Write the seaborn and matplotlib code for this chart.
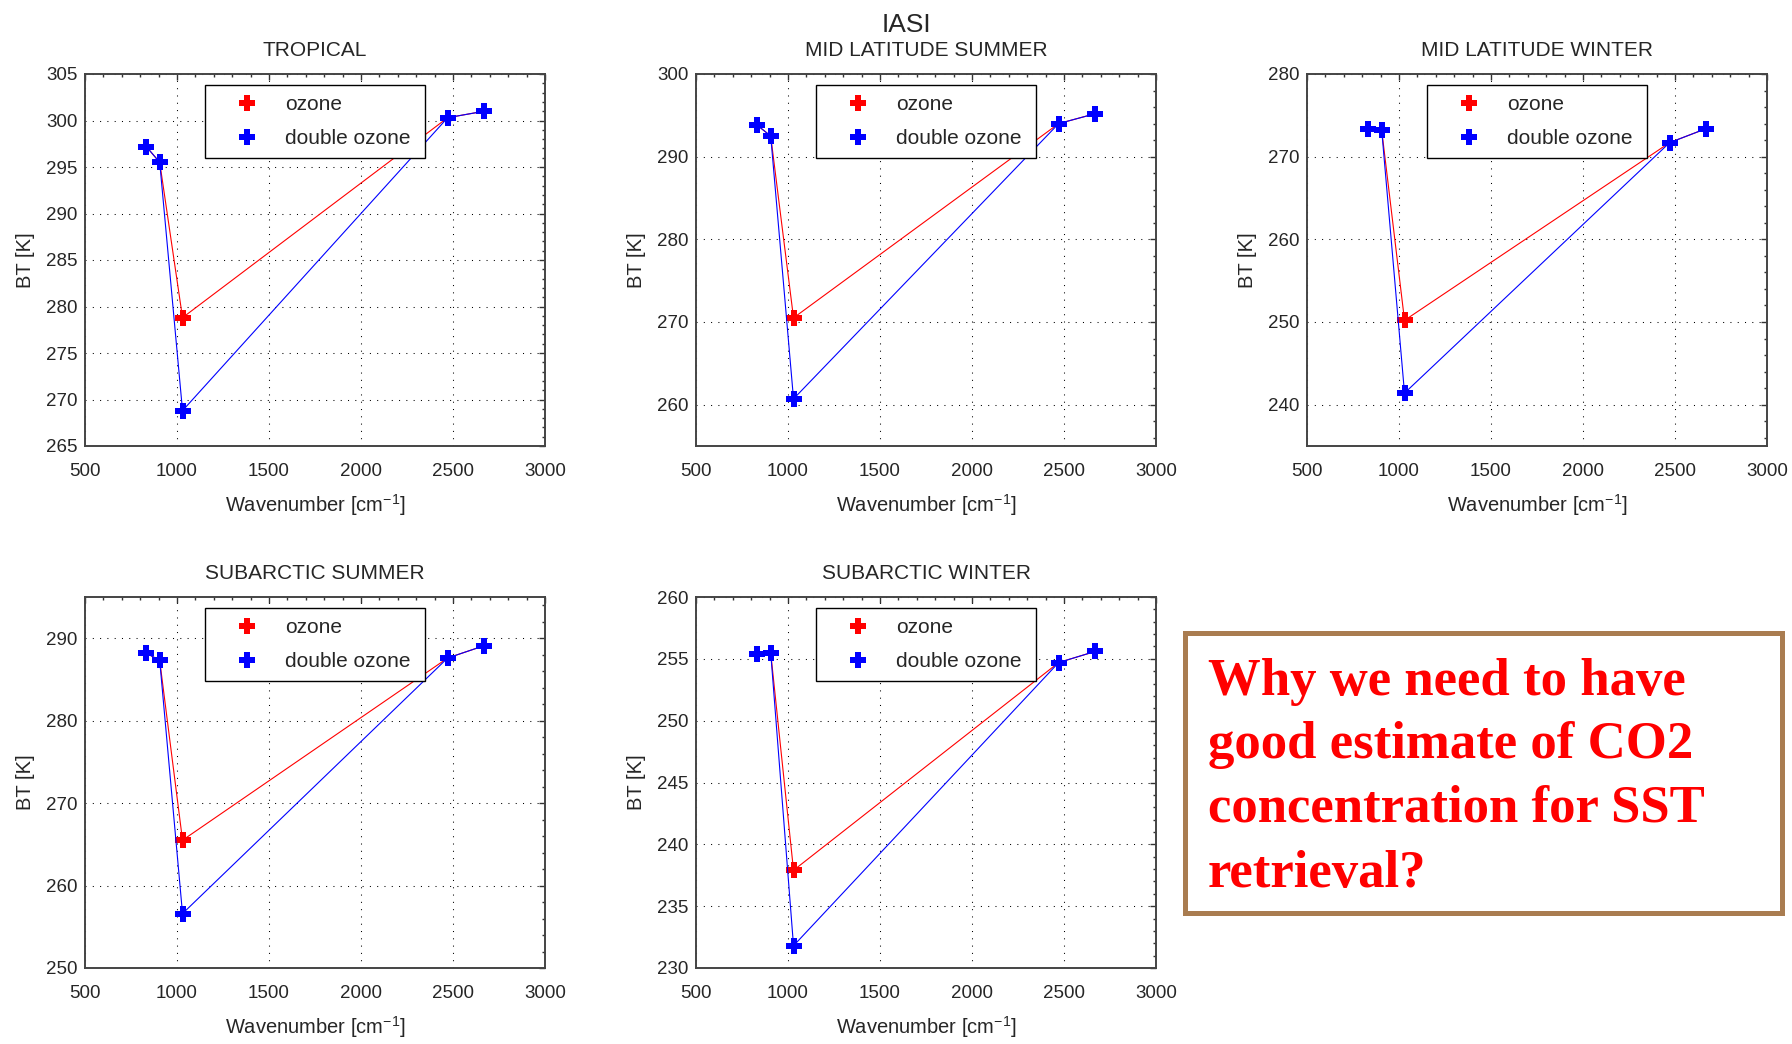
import numpy as np
import pandas as pd
import matplotlib
matplotlib.use("Agg")
import matplotlib.pyplot as plt
from matplotlib.lines import Line2D
from matplotlib.patches import Rectangle
from matplotlib.ticker import MultipleLocator
import seaborn as sns

# ---- data -------------------------------------------------------------
wavenumber = [833, 906, 1030, 2471, 2670]

profiles = ["TROPICAL", "MID LATITUDE SUMMER", "MID LATITUDE WINTER",
            "SUBARCTIC SUMMER", "SUBARCTIC WINTER"]

bt_ozone = {
    "TROPICAL":            [297.2, 295.5, 278.8, 300.3, 301.0],
    "MID LATITUDE SUMMER": [293.8, 292.5, 270.5, 294.0, 295.2],
    "MID LATITUDE WINTER": [273.3, 273.2, 250.2, 271.7, 273.4],
    "SUBARCTIC SUMMER":    [288.2, 287.3, 265.5, 287.6, 289.1],
    "SUBARCTIC WINTER":    [255.4, 255.5, 237.9, 254.7, 255.6],
}
bt_double_ozone = {
    "TROPICAL":            [297.2, 295.5, 268.8, 300.3, 301.0],
    "MID LATITUDE SUMMER": [293.8, 292.5, 260.7, 294.0, 295.2],
    "MID LATITUDE WINTER": [273.3, 273.2, 241.4, 271.7, 273.4],
    "SUBARCTIC SUMMER":    [288.2, 287.3, 256.6, 287.6, 289.1],
    "SUBARCTIC WINTER":    [255.4, 255.5, 231.8, 254.7, 255.6],
}

# y-axis range, major step, minor step
y_ranges = {
    "TROPICAL":            (265, 305, 5, 1),
    "MID LATITUDE SUMMER": (255, 300, 10, 2),
    "MID LATITUDE WINTER": (235, 280, 10, 2),
    "SUBARCTIC SUMMER":    (250, 295, 10, 2),
    "SUBARCTIC WINTER":    (230, 260, 5, 1),
}

series_names = ["ozone", "double ozone"]
series_colors = {"ozone": "#ff0000", "double ozone": "#0000ff"}

question = ("Why we need to have\n"
            "good estimate of CO2\n"
            "concentration for SST\n"
            "retrieval?")

# ---- styling ----------------------------------------------------------
sns.set_style("white")
plt.rcParams["font.family"] = ["Liberation Sans", "DejaVu Sans"]
plt.rcParams["mathtext.default"] = "regular"

W, H = 1792, 1044
fig = plt.figure(figsize=(W / 100, H / 100), dpi=100)


def px_axes(x0, y0, x1, y1):
    return fig.add_axes([x0 / W, 1 - y1 / H, (x1 - x0) / W, (y1 - y0) / H])


boxes = {
    "TROPICAL":            (85, 74, 545, 446),
    "MID LATITUDE SUMMER": (696, 74, 1156, 446),
    "MID LATITUDE WINTER": (1307, 74, 1767, 446),
    "SUBARCTIC SUMMER":    (85, 597, 545, 968),
    "SUBARCTIC WINTER":    (696, 597, 1156, 968),
}

marker_kw = dict(marker="P", markersize=11, markeredgewidth=0)

for name in profiles:
    ax = px_axes(*boxes[name])
    df = pd.DataFrame({
        "wavenumber": wavenumber * 2,
        "bt": bt_ozone[name] + bt_double_ozone[name],
        "case": ["ozone"] * len(wavenumber) + ["double ozone"] * len(wavenumber),
    })
    sns.lineplot(data=df, x="wavenumber", y="bt", hue="case",
                 hue_order=series_names, palette=series_colors,
                 estimator=None, sort=False, linewidth=0.8,
                 legend=False, ax=ax, **marker_kw)

    lo, hi, major, minor = y_ranges[name]
    ax.set_xlim(500, 3000)
    ax.set_ylim(lo, hi)
    ax.xaxis.set_major_locator(MultipleLocator(500))
    ax.xaxis.set_minor_locator(MultipleLocator(100))
    ax.yaxis.set_major_locator(MultipleLocator(major))
    ax.yaxis.set_minor_locator(MultipleLocator(minor))

    ax.grid(True, which="major", color="black",
            linestyle=(0, (1.0, 6.0)), linewidth=0.75)
    ax.tick_params(which="both", direction="in", top=True, right=True,
                   color="#333333", labelsize=13.5)
    ax.tick_params(which="major", length=4, width=1)
    ax.tick_params(which="minor", length=2.5, width=1)
    ax.tick_params(axis="x", pad=12)
    ax.tick_params(axis="y", pad=5.5)
    for sp in ax.spines.values():
        sp.set_color("#444444")
        sp.set_linewidth(1.4)

    ax.set_title(name, fontsize=15, pad=13)
    ax.set_xlabel("Wavenumber [cm$^{-1}$]", fontsize=14.5, labelpad=9)
    ax.set_ylabel("BT [K]", fontsize=14.5, labelpad=8)

    handles = [Line2D([], [], linestyle="none", color=series_colors[s],
                      **marker_kw) for s in series_names]
    leg = ax.legend(handles, series_names, loc="upper left",
                    bbox_to_anchor=(0.26, 0.97, 0.48, 0.0), mode="expand",
                    borderaxespad=0, fontsize=15, frameon=True,
                    fancybox=False, framealpha=1, edgecolor="black",
                    borderpad=0.47, labelspacing=0.72,
                    handlelength=3.1, handletextpad=0.3)
    leg.get_frame().set_linewidth(1.0)
    leg.set_zorder(5)

fig.text(906 / W, 1 - 25 / H, "IASI", fontsize=19, ha="center",
         va="center")

# framed question on the lower right
fig.patches.append(Rectangle((1185 / W, 1 - 913 / H), (1782 - 1185) / W,
                             (913 - 633) / H, transform=fig.transFigure,
                             fill=False, edgecolor="#a97c50", linewidth=3.6))
baselines = [695, 758, 822, 887]
for line, yb in zip(question.split("\n"), baselines):
    fig.text(1208 / W, 1 - yb / H, line, fontsize=38, color="#ff0000",
             fontweight="bold", family=["Liberation Serif", "DejaVu Serif"],
             ha="left", va="baseline")

fig.savefig("out.png", dpi=100, facecolor="white")
